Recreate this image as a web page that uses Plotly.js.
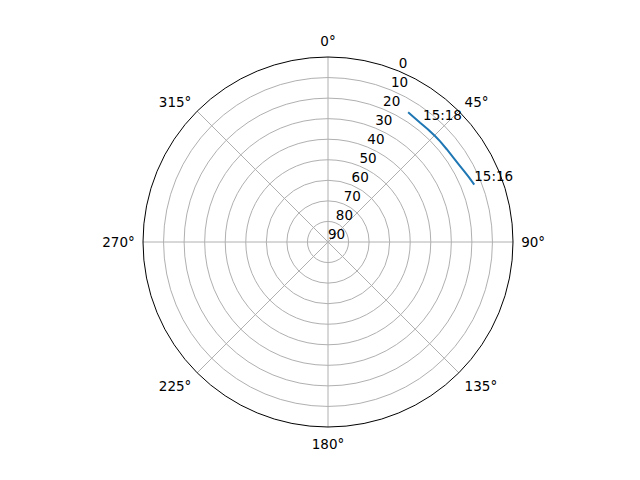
<!DOCTYPE html>
<html>
<head>
<meta charset="utf-8">
<script src="https://cdn.plot.ly/plotly-3.0.1.min.js"></script>
<style>
  html, body { margin: 0; padding: 0; background: #fff; }
  #chart { width: 640px; height: 480px; }
</style>
</head>
<body>
<div id="chart"></div>
<script>
// sky track: azimuth (deg, clockwise from north) and elevation (deg)
const azimuth   = [68.6, 65.5, 62.6, 59.5, 56.2, 52.0, 48.1, 45.4, 41.5, 37.7, 34.5, 31.7];
const elevation = [13.6, 14.5, 15.3, 16.0, 16.5, 16.7, 16.7, 16.7, 16.7, 16.7, 16.3, 15.8];

// time labels along the track
const labelTimes = ['15:16', '15:18'];
const labelAz    = [68.6, 38.8];
const labelEl    = [13.6, 16.2];

// axis ticks
const azTicks      = [0, 45, 90, 135, 180, 225, 270, 315];
const azTickLabels = azTicks.map(v => v + '°');
const elTicks      = [0, 10, 20, 30, 40, 50, 60, 70, 80, 90];
const elLabelAz    = 22.5;   // radial labels sit along this bearing

const FONT = { family: 'DejaVu Sans, sans-serif', size: 13.5, color: '#000' };
const GRID = '#b0b0b0';

const traces = [
  {
    type: 'scatterpolar', mode: 'lines',
    r: elevation, theta: azimuth,
    line: { color: '#1f77b4', width: 2 },
    showlegend: false,
    hoverinfo: 'skip',
  },
  // radial (elevation) tick labels
  {
    type: 'scatterpolar', mode: 'text',
    r: elTicks, theta: elTicks.map(() => elLabelAz),
    text: elTicks.map(String),
    textposition: 'top right',
    textfont: FONT,
    showlegend: false,
    hoverinfo: 'skip',
    cliponaxis: false,
  },
  {
    type: 'scatterpolar', mode: 'text',
    r: labelEl, theta: labelAz,
    text: labelTimes,
    textposition: 'top right',
    textfont: FONT,
    showlegend: false,
    hoverinfo: 'skip',
    cliponaxis: false,
  },
];

const layout = {
  width: 640, height: 480,
  paper_bgcolor: '#fff',
  margin: { l: 143, r: 127, t: 57, b: 53 },
  font: FONT,
  showlegend: false,
  polar: {
    bgcolor: '#fff',
    domain: { x: [0, 1], y: [0, 1] },
    angularaxis: {
      rotation: 90,
      direction: 'clockwise',
      tickmode: 'array',
      tickvals: azTicks,
      ticktext: azTickLabels,
      ticks: 'outside',
      ticklen: 5,
      tickcolor: 'rgba(0,0,0,0)',
      showline: true,
      linecolor: '#000',
      linewidth: 1,
      showgrid: true,
      gridcolor: GRID,
      gridwidth: 1,
      tickfont: FONT,
    },
    radialaxis: {
      range: [90, 0],
      tickmode: 'array',
      tickvals: elTicks,
      angle: 67.5,
      showline: false,
      showticklabels: false,
      ticks: '',
      showgrid: true,
      gridcolor: GRID,
      gridwidth: 1,
    },
  },
};

Plotly.newPlot('chart', traces, layout, { displayModeBar: false, staticPlot: true });
</script>
</body>
</html>
